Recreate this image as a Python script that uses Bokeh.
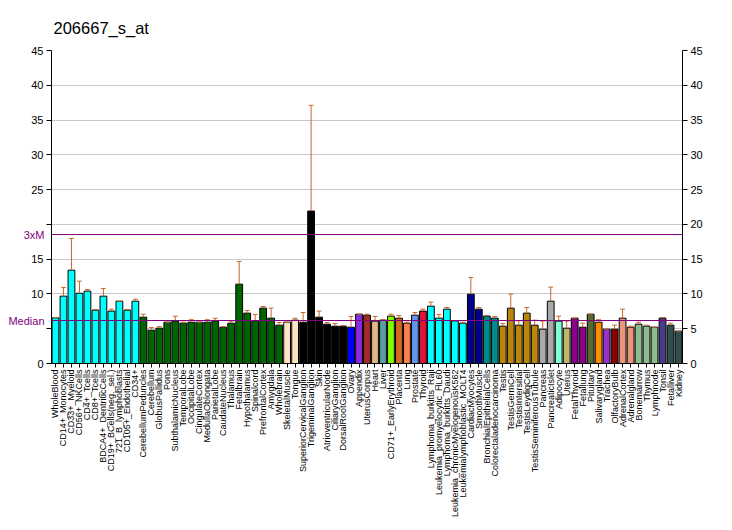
import math
from bokeh.plotting import figure
from bokeh.models import Range1d, FixedTicker, LinearAxis, Span, ColumnDataSource
from bokeh.embed import file_html
from bokeh.resources import INLINE

title_text = "206667_s_at"

tissues = ["WholeBlood", "CD14+_Monocytes", "CD33+_Myeloid", "CD56+_NKCells", "CD4+_Tcells",
           "CD8+_Tcells", "BDCA4+_DentriticCells", "CD19+_BCells(neg._sel.)", "721_B_lymphoblasts",
           "CD105+_Endothelial", "CD34+", "CerebellumPeduncles", "Cerebellum", "GlobusPallidus", "Pons",
           "SubthalamicNucleus", "TemporalLobe", "OccipitalLobe", "CingulateCortex", "MedullaOblongata",
           "ParietalLobe", "CaudateNucleus", "Thalamus", "Fetalbrain", "Hypothalamus", "Spinalcord",
           "PrefrontalCortex", "Amygdala", "Wholebrain", "SkeletalMuscle", "Tongue",
           "SuperiorCervicalGanglion", "TrigeminalGanglion", "Skin", "AtrioventricularNode",
           "CiliaryGanglion", "DorsalRootGanglion", "Ovary", "Appendix", "UterusCorpus", "Heart", "Liver",
           "CD71+_EarlyErythroid", "Placenta", "Lung", "Prostate", "Thyroid", "Lymphoma_burkitts_Raji",
           "Leukemia_promyelocytic_HL60", "Lymphoma_burkitts_Daudi", "Leukemia_chronicMyelogenousK562",
           "Leukemialymphoblastic_MOLT4", "CardiacMyocytes", "SmoothMuscle", "BronchialEpithelialCells",
           "Colorectaladenocarcinoma", "Testis", "TestisGermCell", "TestisIntersitial", "TestisLeydigCell",
           "TestisSeminiferousTubule", "Pancreas", "PancreaticIslet", "Adipocyte", "Uterus", "FetalThyroid",
           "Fetallung", "Pituitary", "Salivarygland", "Trachea", "OlfactoryBulb", "AdrenalCortex",
           "Adrenalgland", "Bonemarrow", "Thymus", "Lymphnode", "Tonsil", "Fetalliver", "Kidney"]

values = [6.56, 9.68, 13.42, 10.1, 10.4, 7.67, 9.68, 7.53, 8.96, 7.67, 8.96,
          6.66, 4.79, 5.08, 5.94, 6.13, 5.8, 5.94, 5.94, 5.94, 6.13, 5.22, 5.8, 11.41, 7.24, 6.09, 7.96, 6.52, 5.51,
          5.94, 6.23,
          5.94, 21.92, 6.66, 5.65, 5.37, 5.37,
          5.22, 7.09, 6.95, 6.09, 6.23, 6.81, 6.52, 5.8, 6.95, 7.53,
          8.24, 6.52, 7.81, 6.13, 5.8,
          9.97, 7.81, 6.81, 6.52,
          5.37, 7.96, 5.51, 7.24, 5.51,
          4.93, 8.96, 6.09, 5.08, 6.52, 5.22, 7.09, 5.94, 4.93, 4.93, 6.52, 5.22, 5.65, 5.37, 5.22, 6.52, 5.51, 4.65]

err_top = [6.6, 10.93, 17.98, 11.84, 10.64, 7.76, 10.79, 7.81, 8.96, 7.76, 9.25,
           7.09, 5.18, 5.3, 5.94, 6.8, 5.94, 6.3, 5.94, 6.3, 6.5, 5.3, 6.1, 14.67, 7.62, 7.05, 8.2, 7.96, 5.9,
           5.94, 6.5,
           7.33, 37.12, 7.53, 5.9, 5.75, 5.45,
           6.76, 7.09, 7.09, 6.76, 6.33, 7.09, 6.9, 5.94, 7.33, 7.81,
           8.82, 7.05, 8.05, 6.13, 5.94,
           12.37, 8.05, 6.9, 6.76,
           5.75, 9.97, 6.13, 8.05, 6.23,
           6.09, 10.98, 6.81, 6.09, 6.52, 5.8, 7.09, 6.3, 4.93, 5.51, 7.81, 5.37, 5.94, 5.51, 5.22, 6.62, 5.8, 4.65]

colors = (["#00FFFF"] * 11 + ["#006400"] * 18 + ["#FFE4C4"] * 2 + ["#000000"] * 6 +
          ["#0000FF", "#8A2BE2", "#A52A2A", "#DEB887", "#5F9EA0", "#7FFF00", "#D2691E", "#FF7F50",
           "#6495ED", "#DC143C"] +
          ["#00FFFF"] * 5 + ["#00008B"] * 2 + ["#008B8B"] * 2 + ["#B8860B"] * 5 + ["#A9A9A9"] * 2 +
          ["#7FFFD4", "#BDB76B", "#8B008B", "#8B008B", "#556B2F", "#FF8C00", "#9932CC", "#8B0000",
           "#E9967A", "#E9967A", "#8FBC8F", "#8FBC8F", "#8FBC8F", "#483D8B", "#2F4F4F", "#2F4F4F"])

median_value = 6.18
y_ticks = [0, 5, 10, 15, 20, 25, 30, 35, 40, 45]

n = len(tissues)
xs = list(range(1, n + 1))
src = ColumnDataSource(dict(x=xs, top=values, err=err_top, color=colors,
                            xl=[x - 0.3 for x in xs], xr=[x + 0.3 for x in xs]))

FONT = "Liberation Sans"
PURPLE = "#800080"
ERR = "#C8682D"

p = figure(frame_width=631, frame_height=313, output_backend="svg", toolbar_location=None,
           x_range=Range1d(0.5, n + 0.5), y_range=Range1d(0, 45),
           min_border_left=51, min_border_top=50, min_border_right=45, min_border_bottom=10,
           y_axis_location=None, x_axis_location=None)
p.outline_line_color = None
p.background_fill_color = "white"
p.border_fill_color = "white"

p.title.text = title_text
p.title.text_font = FONT
p.title.text_font_size = "16.5px"
p.title.text_font_style = "normal"
p.title.text_color = "black"
p.title.align = "left"
p.title.offset = 2
p.title.standoff = 28

# grid
p.xgrid.visible = False
p.ygrid.ticker = FixedTicker(ticks=y_ticks)
p.ygrid.grid_line_color = "#C8C8C8"
p.ygrid.grid_line_width = 1

def style_axis(ax):
    ax.axis_line_color = "black"
    ax.major_tick_line_color = "black"
    ax.minor_tick_line_color = None
    ax.major_tick_out = 5
    ax.major_tick_in = 0
    ax.major_label_text_font = FONT
    ax.major_label_text_font_size = "11px"
    ax.major_label_text_color = "black"

left = LinearAxis(ticker=FixedTicker(ticks=y_ticks))
style_axis(left)
left.major_label_overrides = {5: "", 20: ""}
left.major_label_standoff = 3
p.add_layout(left, "left")

# purple reference labels (outer left axis, pulled back next to the main axis)
ref_ticks = [median_value, 3 * median_value]
left_ref = LinearAxis(ticker=FixedTicker(ticks=ref_ticks))
style_axis(left_ref)
left_ref.axis_line_color = None
left_ref.major_tick_line_color = None
left_ref.major_tick_out = 0
left_ref.major_label_overrides = {median_value: "Median", 3 * median_value: "3xM"}
left_ref.major_label_text_color = PURPLE
left_ref.major_label_standoff = -16
p.add_layout(left_ref, "left")

right = LinearAxis(ticker=FixedTicker(ticks=y_ticks))
style_axis(right)
right.major_label_standoff = 3
p.add_layout(right, "right")

bottom = LinearAxis(ticker=FixedTicker(ticks=xs))
style_axis(bottom)
bottom.major_tick_out = 4
bottom.major_label_overrides = {x: t for x, t in zip(xs, tissues)}
bottom.major_label_orientation = math.pi / 2
bottom.major_label_text_font_size = "9px"
bottom.major_label_standoff = 2
p.add_layout(bottom, "below")

# bars
p.vbar(x="x", top="top", bottom=0, width=0.85, source=src, fill_color="color",
       line_color="black", line_width=1)

# error bars
p.segment(x0="x", y0="top", x1="x", y1="err", source=src, line_color=ERR, line_width=1)
p.segment(x0="xl", y0="err", x1="xr", y1="err", source=src, line_color=ERR, line_width=1)

# median / 3xM lines
p.add_layout(Span(location=median_value, dimension="width", line_color=PURPLE, line_width=1))
p.add_layout(Span(location=3 * median_value, dimension="width", line_color=PURPLE, line_width=1))

open("out.html", "w").write(file_html(p, INLINE))
